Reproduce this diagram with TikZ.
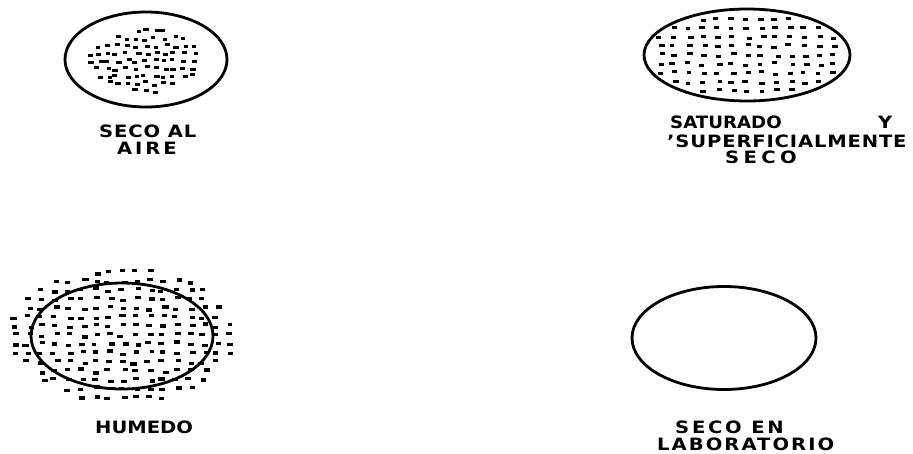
\documentclass[tikz,border=0pt]{standalone}
\usepackage{fontspec}
\setmainfont{DejaVu Sans}
\tikzset{
  ring/.style={line width=2.8pt, black},
  lbl/.style={anchor=base west, inner sep=0pt, text height=12.5pt, text depth=0.5pt,
    font=\fontsize{17}{17}\selectfont\bfseries},
}
\newcommand\dotW{4}
\newcommand\dotH{2.8}
% cx cy rx ry stepx stepy jitterx jittery
\newcommand\dotgrid[8]{%
  \pgfmathtruncatemacro\ni{ceil(#3/#5)}%
  \pgfmathtruncatemacro\nj{ceil(#4/#6)}%
  \foreach \i in {-\ni,...,\ni}{\foreach \j in {-\nj,...,\nj}{%
    \pgfmathsetmacro\px{\i*#5+rand*#7}%
    \pgfmathsetmacro\py{\j*#6+rand*#8}%
    \pgfmathsetmacro\q{(\px/#3)*(\px/#3)+(\py/#4)*(\py/#4)}%
    \pgfmathsetmacro\ww{\dotW+rnd*1.5}%
    \pgfmathsetmacro\ax{#1+\px-\ww/2}%
    \pgfmathsetmacro\ay{#2+\py-\dotH/2}%
    \ifdim\q pt<1pt \fill (\ax,\ay) rectangle ++(\ww,\dotH);\fi
  }}}
\begin{document}
\begin{tikzpicture}[x=1pt,y=-1pt]
\useasboundingbox (0,0) rectangle (913,453);

% 1: seco al aire
\pgfmathsetseed{11}
\renewcommand\dotW{4.2}
\renewcommand\dotH{3}
\dotgrid{146}{61}{57}{32}{9.5}{7.5}{2.8}{2}
\draw[ring] (146,59.5) ellipse [x radius=81, y radius=47.5];
\node[lbl] (t1a) at (99,137) {\addfontfeature{FakeStretch=1.15,LetterSpace=5}SECO AL};
\node[lbl] (t1b) at (117,154) {\addfontfeature{FakeStretch=1.15,LetterSpace=17}AIRE};

% 2: saturado y superficialmente seco
\pgfmathsetseed{23}
\renewcommand\dotW{4.5}
\dotgrid{747}{55}{98}{42}{14.5}{9}{2.5}{1.5}
\draw[ring] (747,55) ellipse [x radius=103, y radius=46];
\node[lbl] (t2a) at (670,128) {\addfontfeature{FakeStretch=1.07}SATURADO};
\node[lbl] (t2y) at (878,128) {\addfontfeature{FakeStretch=1.15}Y};
\node[lbl] (t2b) at (667,147) {\addfontfeature{FakeStretch=1.15,LetterSpace=5}'SUPERFICIALMENTE};
\node[lbl] (t2c) at (725,163) {\addfontfeature{FakeStretch=1.15,LetterSpace=26}SECO};

% 3: humedo
\pgfmathsetseed{37}
\renewcommand\dotW{4.8}
\renewcommand\dotH{3.2}
\dotgrid{123}{335}{113}{68}{13.5}{9}{3}{2}
\draw[ring] (122,336) ellipse [x radius=91, y radius=53];
\node[lbl] (t3) at (95,433) {\addfontfeature{FakeStretch=1.15}HUMEDO};

% 4: seco en laboratorio
\draw[ring] (724,338) ellipse [x radius=92, y radius=51.5];
\node[lbl] (t4a) at (675,433) {\addfontfeature{FakeStretch=1.15,LetterSpace=16}SECO EN};
\node[lbl] (t4b) at (657,450.5) {\addfontfeature{FakeStretch=1.15,LetterSpace=12}LABORATORIO};
\end{tikzpicture}
\end{document}
